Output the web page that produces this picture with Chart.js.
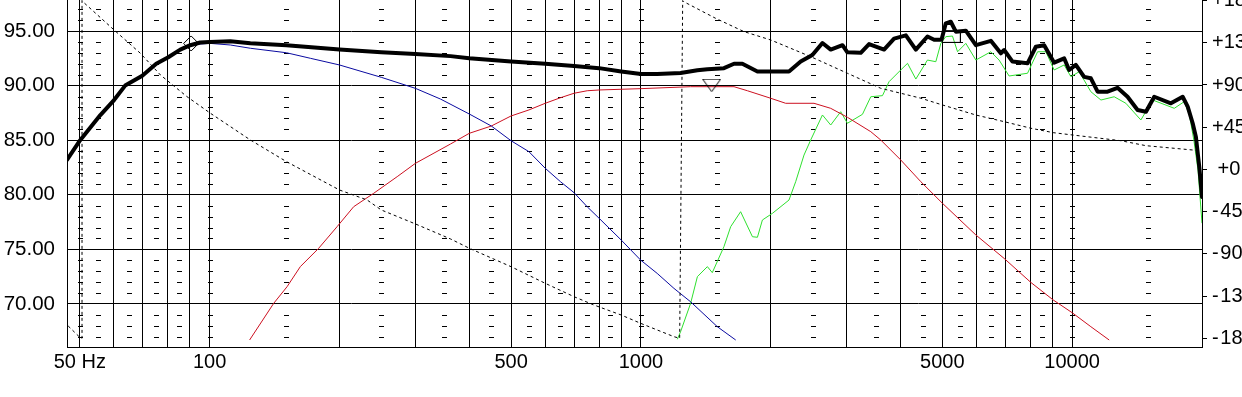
<!DOCTYPE html>
<html>
<head>
<meta charset="utf-8">
<script src="https://cdn.jsdelivr.net/npm/chart.js@4/dist/chart.umd.min.js"></script>
<style>
  html, body { margin:0; padding:0; background:#fff; width:1242px; height:397px; overflow:hidden; }
  #c { display:block; }
</style>
</head>
<body>
<canvas id="c" width="1300" height="397"></canvas>
<script>
// --- data: [Hz, dB] pairs ---
const totalSpl = [[46.7,83.2],[50.1,85.0],[55.8,87.3],[60.1,88.7],[63.7,90.0],[69.8,90.9],[75.2,92.0],[80.2,92.6],[85.5,93.3],[90.2,93.7],[95.1,93.95],[100,94.0],[111.7,94.06],[124.3,93.87],[150.7,93.7],[200,93.3],[250,93.05],[300,92.9],[362,92.7],[400,92.5],[500,92.2],[600,92.0],[700,91.8],[800,91.6],[900,91.3],[1000,91.06],[1091,91.06],[1236,91.15],[1352,91.4],[1426,91.5],[1558,91.6],[1644,92.0],[1719,92.0],[1863,91.3],[2000,91.3],[2205,91.3],[2347,92.2],[2498,92.8],[2636,93.9],[2755,93.3],[2934,93.7],[3012,93.05],[3234,93.0],[3381,93.8],[3663,93.3],[3864,94.3],[4115,94.6],[4340,93.3],[4618,94.5],[4786,94.2],[4978,94.2],[5093,95.7],[5231,95.85],[5373,94.94],[5668,95.03],[5980,93.7],[6478,94.1],[6833,92.96],[6955,93.26],[7272,92.2],[7880,92.04],[8237,93.56],[8611,93.7],[9082,92.1],[9581,92.5],[9840,91.43],[10198,91.9],[10660,90.8],[11050,90.67],[11455,89.44],[12082,89.44],[12740,89.8],[13440,88.98],[14180,87.77],[14830,87.6],[15500,88.98],[16940,88.38],[18040,88.98],[18530,88.07],[19030,86.55],[19360,85.3],[19710,82.57],[20000,79.8]];
const wooferSpl = [[89,93.7],[95.1,93.81],[100,93.87],[111.7,93.72],[124.3,93.42],[150.7,93.01],[171.3,92.5],[200,91.89],[250,90.76],[300,89.75],[343,88.77],[400,87.4],[450,86.3],[500,84.95],[550,83.95],[600,82.43],[651,81.2],[700,80.19],[751,78.9],[800,77.85],[900,75.86],[998,74.03],[1091,72.8],[1193,71.43],[1304,70.2],[1504,67.92],[1659,66.7]];
const midSpl = [[123.8,66.7],[140.8,70.06],[151.2,71.58],[162.3,73.42],[179,75.1],[197.5,77.08],[215.8,78.91],[240.2,80.14],[272.2,81.66],[300,82.88],[361.8,84.65],[400,85.63],[450,86.3],[500,87.22],[550,87.77],[600,88.38],[651,88.89],[700,89.3],[751,89.53],[800,89.6],[998,89.72],[1304,89.9],[1644,89.9],[1766,89.53],[2000,88.84],[2166,88.38],[2520,88.38],[2755,87.92],[3012,87.1],[3412,85.78],[3598,85.02],[4004,83.19],[4457,81.2],[5003,79.22],[5980,76.32],[6955,74.17],[8022,71.97],[9036,70.37],[10000,69.2],[11050,67.92],[12185,66.7]];
const tweeterSpl = [[1215,66.77],[1236,67.46],[1304,70.06],[1352,72.5],[1426,73.42],[1464,72.87],[1558,75.25],[1615,77.08],[1703,78.45],[1814,76.16],[1863,76.11],[1913,77.69],[2018,78.3],[2205,79.52],[2285,81.2],[2389,83.64],[2476,85.02],[2636,87.31],[2755,86.39],[2906,87.61],[3012,86.55],[3264,87.37],[3412,88.98],[3632,89.08],[3762,90.36],[4004,91.43],[4152,92.04],[4340,90.6],[4618,92.34],[4829,92.19],[4960,93.87],[5093,94.48],[5278,94.54],[5423,93.1],[5668,93.87],[5980,92.34],[6478,93.1],[6770,92.34],[7141,90.88],[7880,91.13],[8314,93.1],[8690,93.1],[9082,91.43],[9581,91.89],[9932,90.82],[10380,91.27],[11050,89.44],[11660,88.68],[12515,88.98],[13320,88.38],[14430,86.85],[15370,88.68],[17250,87.92],[18190,88.53],[18700,87.31],[19150,85.0],[19580,82.27],[20000,77.4]];
// phase in degrees, wrapped at +/-180 as drawn
const totalPhase = [[47.0,-166.9],[49.9,-178.6],[50.6,-180],[50.6,180],[50.9,178.5],[60.4,147.6],[69.1,123.8],[76.9,100.7],[88.6,77.6],[100.4,59.9],[124.3,31.4],[150.7,8.3],[200,-21.9],[231.9,-32.6],[250,-43.2],[300,-58.1],[361.8,-74.1],[400,-84.0],[500,-103.7],[600,-121.4],[700,-135.7],[778,-144.5],[900,-155.2],[998,-164.0],[1193,-178.3],[1230,-180],[1250,180],[1257,178.8],[1490,161.1],[1734,146.9],[2000,138.0],[2476,120.2],[3012,102.5],[3598,86.5],[4457,75.9],[5003,68.7],[5980,58.0],[6955,50.9],[8022,43.9],[9036,39.2],[10020,36.7],[12970,30.6],[14830,25.3],[19030,20.7],[19580,20.2]];
// markers: [Hz, dB]
const wooferMark = [[90.6,93.86]];
const midMark = [[1459,90.0]];
const tweeterMark = [[5244,94.51]];

// --- axes ---
const gridHz = [50,60,70,80,90,100,200,300,400,500,600,700,800,900,1000,2000,3000,4000,5000,6000,7000,8000,9000,10000];
const xLabelHz = [50,100,500,1000,5000,10000];
const xLabelText = ['50 Hz','100','500','1000','5000','10000'];
const dbTicks = [70,75,80,85,90,95];
const phaseTicks = [-180,-135,-90,-45,0,45,90,135,180];
const dashHz = [50,55,65,75,85,100,150,250,350,450,550,650,750,850,1000,1500,2500,3500,4500,5500,6500,7500,8500,10000,15000];
const minorDb = [67,68,69,71,72,73,74,76,77,78,79,81,82,83,84,86,87,88,89,91,92,93,94,96,97];

const pts = arr => arr.map(p => ({x:p[0], y:p[1]}));

function markImage(kind) {
  const c = document.createElement('canvas');
  const g = c.getContext('2d');
  g.strokeStyle = '#000'; g.lineWidth = 1;
  if (kind === 'box') {
    c.width = 19; c.height = 13;
    g.strokeRect(0.5, 0.5, 18, 12);
  } else {
    c.width = 19; c.height = 14;
    g.beginPath(); g.moveTo(0.5,0.5); g.lineTo(18.5,0.5); g.lineTo(9.5,13); g.closePath(); g.stroke();
  }
  return c;
}

// short dashes for the 1 dB steps
const minorDash = {
  id: 'minorDash',
  beforeDatasetsDraw(chart) {
    const {ctx, scales: {x, y}} = chart;
    ctx.save();
    ctx.strokeStyle = '#000'; ctx.lineWidth = 1;
    ctx.beginPath();
    dashHz.forEach(f => {
      const px = Math.round(x.getPixelForValue(f));
      minorDb.forEach(d => {
        const py = Math.round(y.getPixelForValue(d)) + 0.5;
        ctx.moveTo(px - 2, py); ctx.lineTo(px + 3, py);
      });
    });
    ctx.stroke();
    ctx.restore();
  }
};

const font20 = {family:'"Liberation Sans", Arial, sans-serif', size:20};

new Chart(document.getElementById('c'), {
  type: 'line',
  data: {
    datasets: [
      {data: pts(wooferMark), showLine:false, pointStyle:'rectRot', pointRadius:7.5, borderColor:'#000', borderWidth:1, backgroundColor:'rgba(0,0,0,0)'},
      {data: pts(midMark), showLine:false, pointStyle:markImage('tri'), pointRadius:8},
      {data: pts(tweeterMark), showLine:false, pointStyle:markImage('box'), pointRadius:8},
      {data: pts(totalSpl), borderColor:'#000', borderWidth:4, borderJoinStyle:'round', borderCapStyle:'round'},
      {data: pts(totalPhase), yAxisID:'phase', borderColor:'#000', borderWidth:1, borderDash:[3,3]},
      {data: pts(wooferSpl), borderColor:'#0a0aa0', borderWidth:1},
      {data: pts(midSpl), borderColor:'#cc1020', borderWidth:1},
      {data: pts(tweeterSpl), borderColor:'#2ee02e', borderWidth:1}
    ]
  },
  options: {
    responsive: false,
    animation: false,
    devicePixelRatio: 1,
    layout: {padding: 0, autoPadding: false},
    plugins: {legend: {display:false}, tooltip: {enabled:false}},
    elements: {point: {radius:0}, line: {tension:0, fill:false}},
    scales: {
      x: {
        type: 'logarithmic', min: 46.7, max: 20000,
        afterBuildTicks: s => { s.ticks = gridHz.map(v => ({value:v})); },
        afterFit: s => { s.height = 50; s.paddingLeft = 0; s.paddingRight = 0; },
        grid: {color:'#000', lineWidth:1, drawTicks:false},
        border: {color:'#000'},
        ticks: {autoSkip:false, maxRotation:0, padding:3, color:'#000', font:font20,
          callback: v => { const i = xLabelHz.indexOf(v); return i >= 0 ? xLabelText[i] : ''; }}
      },
      y: {
        position: 'left', min: 66.06, max: 97.84,
        afterBuildTicks: s => { s.ticks = dbTicks.map(v => ({value:v})); },
        afterFit: s => { s.width = 67; s.paddingTop = 0; s.paddingBottom = 0; },
        grid: {color:'#000', lineWidth:1, drawTicks:false},
        border: {color:'#000'},
        ticks: {padding:12, color:'#000', font:{family:'"Liberation Sans", Arial, sans-serif', size:20.5}, callback: v => v.toFixed(2)}
      },
      phase: {
        position: 'right', min: -189.3, max: 180.6,
        afterBuildTicks: s => { s.ticks = phaseTicks.map(v => ({value:v})); },
        afterFit: s => { s.width = 98; s.paddingTop = 0; s.paddingBottom = 0; },
        grid: {drawOnChartArea:false, color:'#000', tickLength:5},
        border: {color:'#000'},
        ticks: {padding:5, color:'#000', font:font20,
          callback: v => v > 0 ? '+' + v : (v === 0 ? ' +0' : '-\u200A' + Math.abs(v))}
      }
    }
  },
  plugins: [minorDash]
});
</script>
</body>
</html>
